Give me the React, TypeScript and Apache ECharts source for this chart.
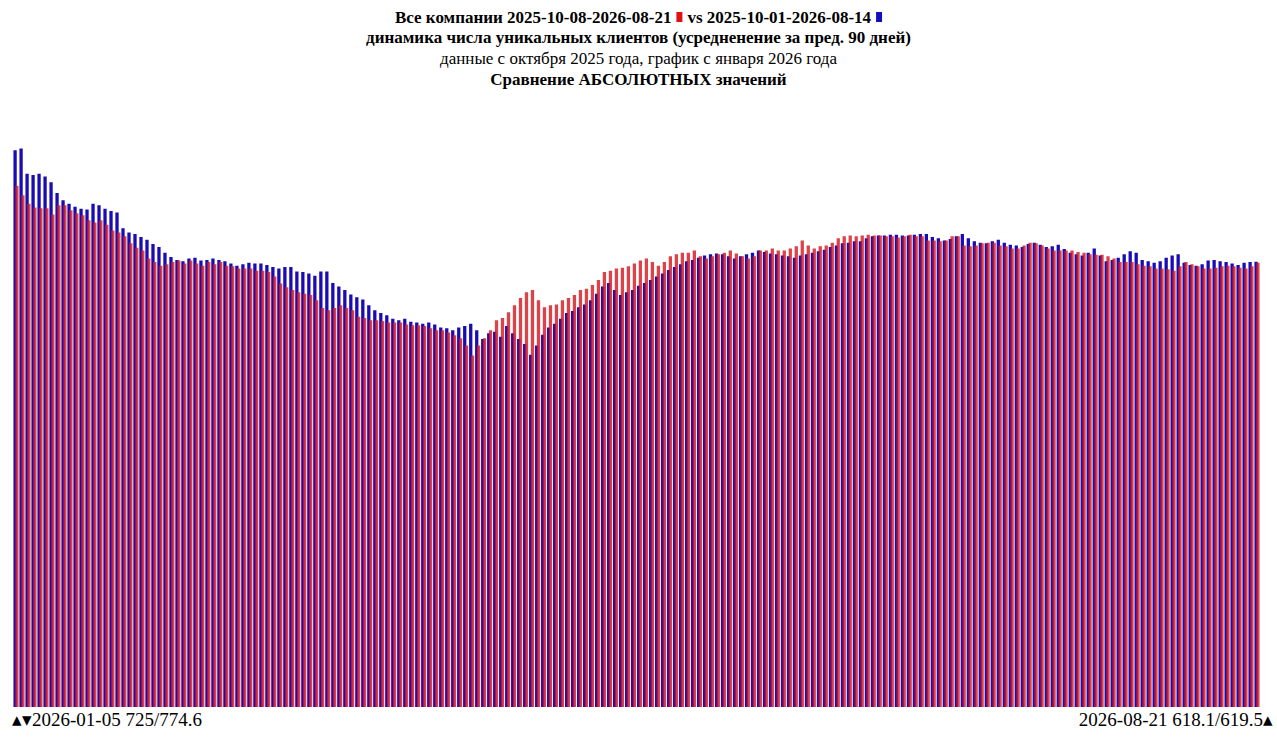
import { useEffect, useRef } from 'react'
import * as echarts from 'echarts'

// current period (red) and previous period (blue)
const redValues = [
  725, 712, 700, 695, 694, 694, 685, 698, 698, 691, 687, 684, 677, 674, 677, 671, 663, 660, 655, 645,
  639, 635, 624, 619, 614, 616, 619, 621, 617, 621, 617, 614, 619, 616, 619, 614, 613, 610, 610, 610,
  607, 607, 605, 599, 589, 584, 580, 577, 575, 573, 566, 555, 552, 555, 559, 555, 552, 543, 541, 538,
  538, 537, 535, 535, 535, 532, 531, 531, 530, 527, 524, 524, 521, 517, 513, 503, 489, 503, 513, 524,
  538, 541, 549, 559, 569, 577, 580, 566, 556, 559, 560, 566, 569, 573, 580, 582, 587, 594, 605, 607,
  610, 611, 613, 617, 621, 624, 619, 614, 619, 627, 630, 632, 632, 635, 627, 624, 627, 630, 632, 635,
  631, 627, 624, 627, 635, 635, 638, 635, 635, 638, 641, 649, 642, 638, 641, 642, 646, 652, 655, 656,
  655, 656, 657, 656, 656, 655, 655, 653, 655, 657, 655, 655, 649, 649, 648, 649, 655, 655, 642, 641,
  642, 645, 646, 646, 642, 641, 638, 638, 642, 646, 645, 642, 638, 635, 635, 635, 635, 633, 632, 630,
  629, 629, 627, 624, 619, 619, 619, 616, 614, 613, 610, 610, 609, 607, 613, 619, 616, 613, 610, 610,
  611, 613, 614, 613, 611, 610, 613, 618.1,
]
const blueValues = [
  774.6, 777, 742, 740, 742, 738, 730, 715, 705, 700, 696, 693, 692, 700, 698, 693, 690, 688, 666, 660,
  658, 654, 650, 644, 640, 632, 626, 622, 620, 624, 625, 621, 622, 624, 622, 620, 617, 614, 616, 618,
  617, 617, 615, 612, 610, 612, 612, 606, 605, 603, 600, 606, 606, 590, 585, 580, 574, 570, 567, 559,
  552, 548, 545, 540, 538, 540, 536, 535, 533, 535, 532, 528, 527, 524, 528, 530, 533, 524, 512, 520,
  522, 515, 530, 520, 512, 505, 490, 503, 518, 528, 533, 540, 548, 551, 556, 560, 566, 575, 585, 590,
  580, 573, 577, 580, 586, 590, 594, 599, 603, 608, 612, 616, 620, 622, 625, 628, 630, 631, 630, 627,
  624, 627, 630, 632, 635, 633, 631, 630, 628, 627, 625, 628, 630, 632, 634, 636, 640, 642, 645, 646,
  648, 648, 652, 655, 656, 656, 657, 657, 656, 656, 657, 658, 658, 654, 652, 649, 651, 655, 658, 652,
  648, 646, 645, 648, 650, 646, 643, 642, 640, 644, 646, 643, 640, 641, 643, 637, 632, 630, 628, 632,
  638, 628, 620, 622, 625, 630, 634, 632, 622, 620, 618, 620, 625, 628, 630, 618, 615, 614, 616, 621,
  622, 620, 619, 617, 615, 618, 619, 619.5,
]
const startLabel = '\u25B4\u25BE2026-01-05 725/774.6'
const endLabel = '2026-08-21 618.1/619.5\u25B4'

const count = Math.max(redValues.length, blueValues.length)
const categories = Array.from({ length: count }, (_, i) => String(i))

export default function App() {
  const chartRef = useRef<HTMLDivElement>(null)

  useEffect(() => {
    if (!chartRef.current) return
    const chart = echarts.init(chartRef.current, null, { renderer: 'svg' })
    const serif = 'Liberation Serif'
    chart.setOption({
      animation: false,
      title: [
        {
          text: '{b|Все компании 2025-10-08-2026-08-21} {r|} {b|vs 2025-10-01-2026-08-14} {u|}',
          left: 'center',
          top: 3,
          textStyle: {
            rich: {
              b: { fontFamily: serif, fontWeight: 'bold', fontSize: 17, color: '#000' },
              r: { backgroundColor: '#e01010', width: 6, height: 10 },
              u: { backgroundColor: '#1010c0', width: 6, height: 10 },
            },
          },
        },
        {
          text: 'динамика числа уникальных клиентов (усредненение за пред. 90 дней)',
          left: 'center',
          top: 24,
          textStyle: { fontFamily: serif, fontWeight: 'bold', fontSize: 17, color: '#000' },
        },
        {
          text: 'данные с октября 2025 года, график с января 2026 года',
          left: 'center',
          top: 45,
          textStyle: { fontFamily: serif, fontWeight: 'normal', fontSize: 17, color: '#000' },
        },
        {
          text: 'Сравнение АБСОЛЮТНЫХ значений',
          left: 'center',
          top: 66,
          textStyle: { fontFamily: serif, fontWeight: 'bold', fontSize: 17, color: '#000' },
        },
      ],
      graphic: [
        { type: 'text', left: 12, top: 710, style: { text: startLabel, font: `19px "${serif}"`, fill: '#000' } },
        { type: 'text', right: 4, top: 710, style: { text: endLabel, font: `19px "${serif}"`, fill: '#000' } },
      ],
      grid: { left: 13, right: 17, top: 96, bottom: 31 },
      xAxis: {
        type: 'category',
        data: categories,
        axisLine: { show: false },
        axisTick: { show: false },
        axisLabel: { show: false },
      },
      yAxis: {
        type: 'value',
        min: 0,
        max: 850,
        show: false,
        splitLine: { show: false },
      },
      series: [
        {
          name: 'prev',
          type: 'bar',
          data: blueValues,
          itemStyle: { color: '#1a0cb4' },
          barCategoryGap: '15%',
          barGap: '-45%',
        },
        {
          name: 'cur',
          type: 'bar',
          data: redValues,
          itemStyle: { color: '#d41820', opacity: 0.82 },
        },
      ],
    })
    return () => chart.dispose()
  }, [])

  return (
    <div
      ref={chartRef}
      style={{ position: 'fixed', left: 0, top: 0, width: 1277, height: 738, background: '#fff' }}
    />
  )
}
